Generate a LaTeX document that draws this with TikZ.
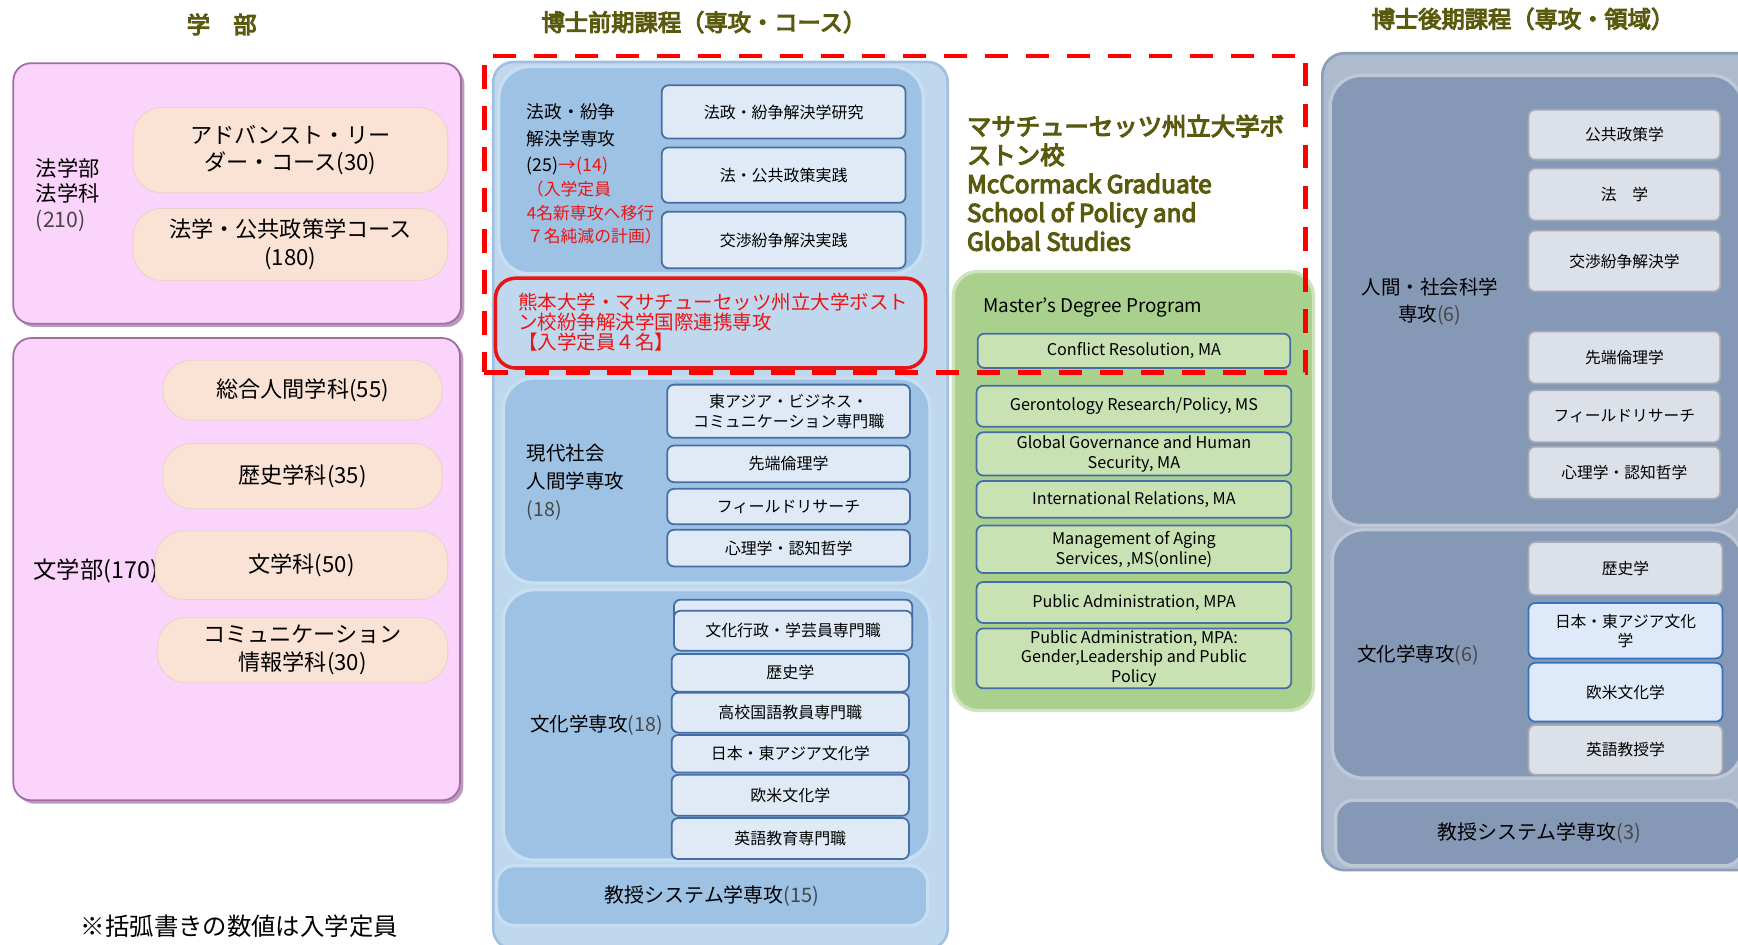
\documentclass[tikz,border=0pt]{standalone}
\usepackage{fontspec}
\setmainfont{Noto Sans CJK JP}
\newfontfamily\headfont[FakeBold=4.5]{Noto Sans CJK JP}
\usepackage{tikz}
\usetikzlibrary{shapes,positioning,fit,backgrounds,shadows}

\definecolor{headolive}{RGB}{90,90,15}
\definecolor{pinkfill}{RGB}{250,212,250}
\definecolor{pinkedge}{RGB}{160,110,165}
\definecolor{peach}{RGB}{250,226,212}
\definecolor{midpanel}{RGB}{192,216,238}
\definecolor{midedge}{RGB}{160,192,225}
\definecolor{midblock}{RGB}{158,194,228}
\definecolor{midrim}{RGB}{200,222,242}
\definecolor{coursefill}{RGB}{224,234,247}
\definecolor{courseedge}{RGB}{70,110,165}
\definecolor{greenfill}{RGB}{170,208,142}
\definecolor{greenedge}{RGB}{205,228,190}
\definecolor{greencourse}{RGB}{200,226,180}
\definecolor{drpanel}{RGB}{174,187,206}
\definecolor{dredge}{RGB}{140,158,185}
\definecolor{drblock}{RGB}{133,152,181}
\definecolor{drrim}{RGB}{190,200,215}
\definecolor{drcoursefill}{RGB}{220,224,232}
\definecolor{dredgegray}{RGB}{165,170,180}
\definecolor{drbluefill}{RGB}{222,234,250}
\definecolor{drblueedge}{RGB}{55,115,185}
\definecolor{numgray}{RGB}{70,70,70}
\definecolor{jointred}{RGB}{235,20,20}

\begin{document}
\begin{tikzpicture}[
    x=0.5pt, y=-0.5pt,
    heading/.style={font=\headfont\fontsize{10.5}{12}\selectfont, text=headolive, inner sep=0pt},
    faculty/.style={rectangle, draw=pinkedge, line width=0.8pt, fill=pinkfill, rounded corners=8pt, drop shadow={shadow xshift=1.5pt, shadow yshift=-1.5pt, fill=pinkedge, opacity=0.7}},
    pill/.style={rectangle, fill=peach, draw=peach!85!pinkedge, line width=0.4pt, rounded corners=13pt, align=center, inner sep=0pt, font=\fontsize{10}{12.5}\selectfont},
    panel/.style={rectangle, rounded corners=9pt, line width=1.2pt},
    major/.style={rectangle, rounded corners=14pt, line width=1.5pt, inner sep=0pt},
    course/.style={rectangle, rounded corners=3pt, fill=coursefill, draw=courseedge, line width=0.8pt, align=center, inner sep=0pt, minimum width=110pt, font=\fontsize{7.2}{9}\selectfont},
    umbcourse/.style={course, fill=greencourse, minimum width=142pt, font=\fontsize{7.3}{9}\selectfont},
    drcourse/.style={course, fill=drcoursefill, draw=dredgegray, minimum width=86.5pt, font=\fontsize{7.1}{8.5}\selectfont},
    drblue/.style={drcourse, fill=drbluefill, draw=drblueedge},
    deptname/.style={align=left, inner sep=0pt, font=\fontsize{8.8}{12.5}\selectfont},
    redbox/.style={rectangle, rounded corners=9pt, draw=jointred, line width=1.6pt, fill=midpanel},
    dashframe/.style={rectangle, draw=red, line width=2.2pt, dash pattern=on 10.5pt off 8pt},
    remark/.style={inner sep=0pt, font=\fontsize{11}{13}\selectfont}
]
\useasboundingbox (0,0) rectangle (1568,852);
\fill[white] (0,0) rectangle (1568,852);

% Headings
\node[heading] (h_ug) at (200,22) {学\quad 部};
\node[heading] (h_ms) at (635,20) {博士前期課程（専攻・コース）};
\node[heading] (h_dr) at (1374,17) {博士後期課程（専攻・領域）};

% Faculty of Law
\node[faculty, minimum width=202pt, minimum height=117.5pt] (law_box) at (214,174.5) {};
\node[deptname, anchor=west, font=\fontsize{9.6}{11.5}\selectfont] (law_name) at (32,176) {法学部\\法学科\\\textcolor{numgray}{(210)}};
\node[pill, minimum width=142pt, minimum height=38.5pt] (law_adv) at (262,135.5) {アドバンスト・リー\\ダー・コース(30)};
\node[pill, minimum width=142pt, minimum height=32.5pt] (law_pub) at (262,220.5) {法学・公共政策学コース\\(180)};

% Faculty of Letters
\node[faculty, minimum width=201.5pt, minimum height=208.5pt] (lit_box) at (213.5,513.5) {};
\node[deptname, anchor=west, font=\fontsize{10.5}{12}\selectfont] (lit_name) at (30,515) {文学部(170)};
\node[pill, minimum width=126pt, minimum height=27pt] (lit_hum) at (273,352) {総合人間学科(55)};
\node[pill, minimum width=126pt, minimum height=29.5pt] (lit_his) at (273,429.5) {歴史学科(35)};
\node[pill, minimum width=132pt, minimum height=31pt] (lit_lit) at (272,510) {文学科(50)};
\node[pill, minimum width=131pt, minimum height=29.5pt] (lit_com) at (273,586.5) {コミュニケーション\\情報学科(30)};

\node[remark] (note) at (216,836) {※括弧書きの数値は入学定員};

% Master's course panel
\node[panel, fill=midpanel, draw=midedge, minimum width=205pt, minimum height=400pt] (mid_panel) at (650,456) {};

% Hosei
\node[major, fill=midblock, draw=midrim, minimum width=191.5pt, minimum height=93.5pt] (hosei) at (641.5,153.5) {};
\node[course, minimum height=24pt] (hosei_res) at (707,101) {法政・紛争解決学研究};
\node[course, minimum height=25pt] (hosei_pol) at (707,158) {法・公共政策実践};
\node[course, minimum height=25.5pt] (hosei_neg) at (707,216.5) {交渉紛争解決実践};
\node[deptname, anchor=west, font=\fontsize{8}{12}\selectfont] (hosei_name) at (475,126) {法政・紛争\\解決学専攻\\(25)\textcolor{jointred}{→(14)}};
\node[deptname, anchor=west, text=jointred, font=\fontsize{7.6}{10.5}\selectfont] (hosei_note) at (475,192) {（入学定員\\4名新専攻へ移行\\７名純減の計画）};

% Joint programme
\node[redbox, minimum width=194pt, minimum height=40.5pt] (joint) at (641,291.5) {};
\node[deptname, anchor=west, text=jointred, font=\fontsize{8.8}{9}\selectfont] (joint_name) at (467,290.5) {熊本大学・マサチューセッツ州立大学ボスト\\ン校紛争解決学国際連携専攻\\【入学定員４名】};

% Gendai
\node[major, fill=midblock, draw=midrim, minimum width=192.5pt, minimum height=92.5pt] (gendai) at (646.5,433.5) {};
\node[course, minimum width=109.5pt, minimum height=24pt] (gendai_biz) at (711.5,371) {東アジア・ビジネス・\\コミュニケーション専門職};
\node[course, minimum width=109.5pt, minimum height=16.5pt] (gendai_eth) at (711.5,418.5) {先端倫理学};
\node[course, minimum width=109.5pt, minimum height=16pt] (gendai_fld) at (711.5,457) {フィールドリサーチ};
\node[course, minimum width=109.5pt, minimum height=16.5pt] (gendai_psy) at (711.5,494.5) {心理学・認知哲学};
\node[deptname, anchor=west] (gendai_name) at (475,435) {現代社会\\人間学専攻\\\textcolor{numgray}{(18)}};

% Bunka
\node[major, fill=midblock, draw=midrim, minimum width=192.5pt, minimum height=122pt] (bunka) at (646.5,654) {};
\node[course, minimum width=107.5pt, minimum height=17pt] (bunka_back) at (715.5,558) {};
\node[course, minimum width=107.5pt, minimum height=18pt] (bunka_adm) at (715.5,569) {文化行政・学芸員専門職};
\node[course, minimum width=107pt, minimum height=17pt] (bunka_his) at (713,607) {歴史学};
\node[course, minimum width=107pt, minimum height=18pt] (bunka_jpn) at (713,643) {高校国語教員専門職};
\node[course, minimum width=107pt, minimum height=17pt] (bunka_jea) at (713,680) {日本・東アジア文化学};
\node[course, minimum width=107pt, minimum height=18.5pt] (bunka_west) at (713,717.5) {欧米文化学};
\node[course, minimum width=107pt, minimum height=18.5pt] (bunka_eng) at (713,756.5) {英語教育専門職};
\node[deptname, anchor=west] (bunka_name) at (478,654) {文化学専攻\textcolor{numgray}{(18)}};

\node[major, rounded corners=8pt, fill=midblock, draw=midrim, minimum width=194.5pt, minimum height=27pt, font=\fontsize{9}{11}\selectfont] (kyoju_m) at (642.5,808) {教授システム学専攻\textcolor{numgray}{(15)}};

% UMass Boston
\node[heading, anchor=west, align=left, font=\headfont\fontsize{11}{13}\selectfont] (umb_name) at (872,165) {マサチューセッツ州立大学ボ\\ストン校\\McCormack Graduate\\School of Policy and\\Global Studies};
\node[panel, fill=greenfill, draw=greenedge, rounded corners=11pt, line width=1.5pt, minimum width=162.5pt, minimum height=198pt] (umb) at (1022.5,443) {};
\node[deptname, anchor=west, font=\fontsize{8.5}{10}\selectfont] (umb_prog) at (887,277) {Master's Degree Program};
\node[umbcourse, minimum width=141pt, minimum height=15.5pt] (umb_cr) at (1023,316.5) {Conflict Resolution, MA};
\node[umbcourse, minimum height=18.5pt] (umb_ger) at (1023,366.5) {Gerontology Research/Policy, MS};
\node[umbcourse, minimum height=19.5pt] (umb_ggh) at (1023,409.5) {Global Governance and Human\\Security, MA};
\node[umbcourse, minimum height=16.5pt] (umb_ir) at (1023,450.5) {International Relations, MA};
\node[umbcourse, minimum height=21.5pt] (umb_mas) at (1023,495.5) {Management of Aging\\Services, ,MS(online)};
\node[umbcourse, minimum height=18.5pt] (umb_mpa) at (1023,543.5) {Public Administration, MPA};
\node[umbcourse, minimum height=27pt] (umb_glp) at (1023,594) {Public Administration, MPA:\\Gender,Leadership and Public\\Policy};

% Doctoral course panel
\node[panel, fill=drpanel, draw=dredge, rounded corners=10pt, minimum width=198.5pt, minimum height=368.5pt] (dr) at (1391.5,416.5) {};

\node[major, fill=drblock, draw=drrim, minimum width=186pt, minimum height=203pt] (ningen) at (1386,271) {};
\node[deptname, align=center, font=\fontsize{8.8}{12}\selectfont] (ningen_name) at (1290,272) {人間・社会科学\\専攻\textcolor{numgray}{(6)}};
\node[drcourse, minimum height=22.5pt] (ningen_pub) at (1465.5,121.5) {公共政策学};
\node[drcourse, minimum height=23.5pt] (ningen_law) at (1465.5,175.5) {法\quad 学};
\node[drcourse, minimum height=27.5pt] (ningen_neg) at (1465.5,235.5) {交渉紛争解決学};
\node[drcourse, minimum height=23.5pt] (ningen_eth) at (1465.5,322.5) {先端倫理学};
\node[drcourse, minimum height=23.5pt] (ningen_fld) at (1465.5,375.5) {フィールドリサーチ};
\node[drcourse, minimum height=23.5pt] (ningen_psy) at (1465.5,426.5) {心理学・認知哲学};

\node[major, fill=drblock, draw=drrim, minimum width=185pt, minimum height=112pt] (bunka_d) at (1387,590) {};
\node[deptname, anchor=west] (bunka_d_name) at (1224,591) {文化学専攻\textcolor{numgray}{(6)}};
\node[drcourse, minimum width=87.5pt, minimum height=24pt] (bunka_d_his) at (1466.5,513) {歴史学};
\node[drblue, minimum width=87.5pt, minimum height=25pt] (bunka_d_jea) at (1466.5,569) {日本・東アジア文化\\学};
\node[drblue, minimum width=87.5pt, minimum height=26.5pt] (bunka_d_west) at (1466.5,624.5) {欧米文化学};
\node[drcourse, minimum width=87.5pt, minimum height=22.5pt] (bunka_d_eng) at (1466.5,676.5) {英語教授学};

\node[major, rounded corners=8pt, fill=drblock, draw=drrim, minimum width=183.5pt, minimum height=29.5pt, font=\fontsize{9}{11}\selectfont] (kyoju_d) at (1388.5,751.5) {教授システム学専攻\textcolor{numgray}{(3)}};

% Joint programme frame
\node[dashframe, minimum width=370.5pt, minimum height=142.75pt] (dash_frame) at (807.5,193.25) {};

\end{tikzpicture}
\end{document}
